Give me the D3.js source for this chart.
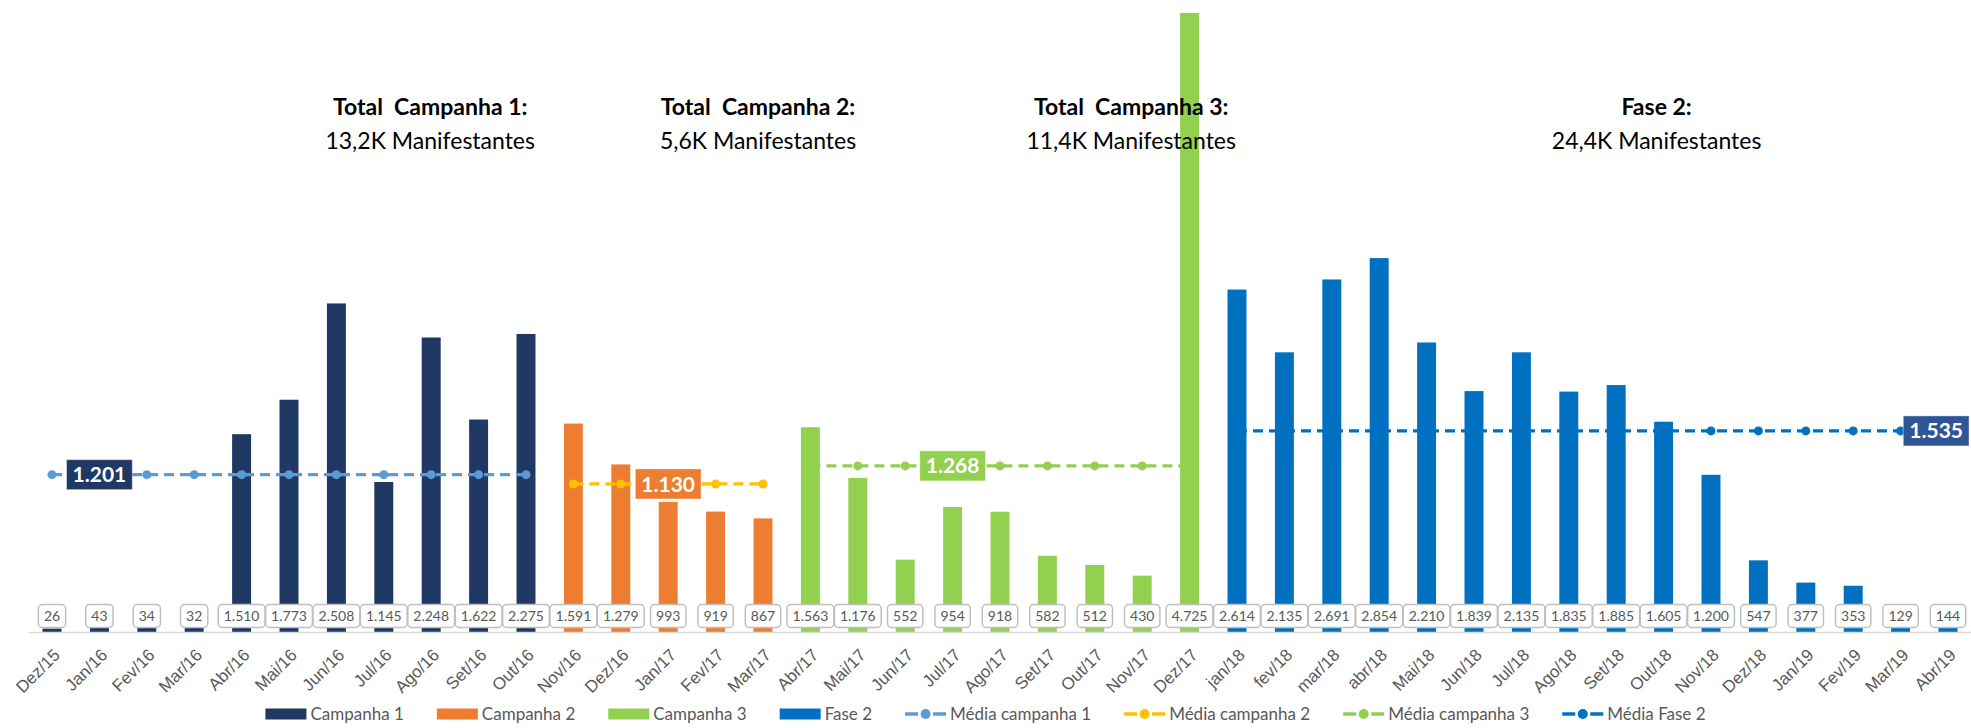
<!DOCTYPE html>
<html>
<head>
<meta charset="utf-8">
<title>Manifestantes por mês</title>
<script src="https://d3js.org/d3.v7.min.js"></script>
<style>
  body { margin: 0; background: #fff; }
  svg { display: block; font-family: Lato, "Open Sans", sans-serif; }
  .xlab { fill: #595959; font-size: 17px; }
  .dlab { fill: #595959; font-size: 14px; }
  .leg text { fill: #595959; font-size: 17px; }
  .title { white-space: pre; }
</style>
</head>
<body>
<svg class="chart"></svg>
<script>
var months = ["Dez/15","Jan/16","Fev/16","Mar/16","Abr/16","Mai/16","Jun/16","Jul/16","Ago/16","Set/16","Out/16",
  "Nov/16","Dez/16","Jan/17","Fev/17","Mar/17",
  "Abr/17","Mai/17","Jun/17","Jul/17","Ago/17","Set/17","Out/17","Nov/17","Dez/17",
  "jan/18","fev/18","mar/18","abr/18","Mai/18","Jun/18","Jul/18","Ago/18","Set/18","Out/18","Nov/18","Dez/18",
  "Jan/19","Fev/19","Mar/19","Abr/19"];

var campanha1 = [26, 43, 34, 32, 1510, 1773, 2508, 1145, 2248, 1622, 2275];
var campanha2 = [1591, 1279, 993, 919, 867];
var campanha3 = [1563, 1176, 552, 954, 918, 582, 512, 430, 4725];
var fase2 = [2614, 2135, 2691, 2854, 2210, 1839, 2135, 1835, 1885, 1605, 1200, 547, 377, 353, 129, 144];

var medias = [1201, 1130, 1268, 1535];
var mediaLabelMonth = ["Jan/16", "Jan/17", "Jul/17", "Abr/19"];

var seriesNames = ["Campanha 1", "Campanha 2", "Campanha 3", "Fase 2"];
var mediaNames = ["Média campanha 1", "Média campanha 2", "Média campanha 3", "Média Fase 2"];
var titleLine1 = ["Total  Campanha 1:", "Total  Campanha 2:", "Total  Campanha 3:", "Fase 2:"];
var titleLine2 = ["13,2K Manifestantes", "5,6K Manifestantes", "11,4K Manifestantes", "24,4K Manifestantes"];

var barColors = ["#203864", "#ED7D31", "#92D050", "#0070C0"];
var lineColors = ["#5B9BD5", "#FFC000", "#92D050", "#0070C0"];
var boxColors = ["#203864", "#ED7D31", "#92D050", "#2F5597"];

var svgWidth = 1971, svgHeight = 728;
var baseY = 632;

var fmt = function(v) { return d3.format(",")(v).replace(/,/g, "."); };

// build rows: each series starts where the previous one ended
var allSeries = [campanha1, campanha2, campanha3, fase2];
var rows = [], seriesMonths = [], start = 0;
allSeries.forEach(function(arr, s) {
  var ms = [];
  arr.forEach(function(v, i) {
    rows.push({ month: months[start + i], value: v, s: s });
    ms.push(months[start + i]);
  });
  seriesMonths.push(ms);
  start += arr.length;
});

var xScale = d3.scaleBand().domain(months).range([28.3, 1971.7]).paddingInner(0.6).paddingOuter(0.3);
var xMid = function(m) { return xScale(m) + xScale.bandwidth() / 2; };
var yScale = d3.scaleLinear().domain([0, 4725]).range([baseY, 13]);

var chart = d3.select(".chart").attr("width", svgWidth).attr("height", svgHeight);

// bars
chart.append("g").selectAll("rect")
  .data(rows).enter().append("rect")
    .attr("x", function(d) { return xScale(d.month); })
    .attr("y", function(d) { return yScale(d.value); })
    .attr("width", xScale.bandwidth())
    .attr("height", function(d) { return baseY - yScale(d.value); })
    .attr("fill", function(d) { return barColors[d.s]; });

// x axis
var xAxis = d3.axisBottom(xScale).tickSize(0).tickSizeOuter(0);
var ax = chart.append("g")
  .attr("transform", "translate(0," + baseY + ")")
  .call(xAxis);
ax.select(".domain").attr("stroke", "#D9D9D9").attr("stroke-width", 1.5);
ax.selectAll(".tick text")
  .attr("class", "xlab")
  .attr("font-size", null).attr("font-family", null)
  .attr("text-anchor", "end")
  .attr("y", 0).attr("dy", 0)
  .attr("transform", "translate(9,24) rotate(-45)");

// data label boxes
var dl = chart.append("g").selectAll("g")
  .data(rows).enter().append("g")
    .attr("transform", function(d) { return "translate(" + xMid(d.month) + ",616)"; });
dl.append("rect");
dl.append("text")
  .attr("class", "dlab")
  .attr("text-anchor", "middle")
  .attr("dy", "0.36em")
  .text(function(d) { return fmt(d.value); });
dl.each(function() {
  var g = d3.select(this);
  var w = g.select("text").node().getComputedTextLength() + 11;
  g.select("rect")
    .attr("x", -w / 2).attr("y", -11.5)
    .attr("width", w).attr("height", 23)
    .attr("rx", 4)
    .attr("fill", "#fff").attr("stroke", "#BFBFBF").attr("stroke-width", 1.5);
});

// average lines
var line = d3.line().x(function(d) { return xMid(d); });
medias.forEach(function(m, s) {
  var ms = seriesMonths[s];
  var g = chart.append("g");
  g.append("path")
    .attr("d", line.y(function() { return yScale(m); })(ms))
    .attr("fill", "none")
    .attr("stroke", lineColors[s])
    .attr("stroke-width", 3.2)
    .attr("stroke-dasharray", "10,6");
  g.selectAll("circle").data(ms).enter().append("circle")
    .attr("cx", xMid).attr("cy", yScale(m)).attr("r", 4.5)
    .attr("fill", lineColors[s]);
  var lab = g.append("g");
  var rect = lab.append("rect");
  var t = lab.append("text")
    .attr("text-anchor", "middle").attr("dy", "0.36em")
    .attr("fill", "#fff").attr("font-weight", "bold").attr("font-size", 21)
    .text(fmt(m));
  var w = t.node().getComputedTextLength() + 12;
  // keep the label box inside the picture on the right edge
  var cx = Math.min(xMid(mediaLabelMonth[s]), svgWidth - w / 2 - 2);
  lab.attr("transform", "translate(" + cx + "," + yScale(m) + ")");
  rect.attr("x", -w / 2).attr("y", -15).attr("width", w).attr("height", 30)
    .attr("fill", boxColors[s]).attr("stroke", "#fff").attr("stroke-opacity", 0.4);
});

// campaign totals
var titleAt = ["Ago/16", "Mar/17", "Nov/17", "Out/18"];
var titleDx = [-1, -5, -11, -7];
titleLine1.forEach(function(t, i) {
  var tx = xMid(titleAt[i]) + titleDx[i];
  chart.append("text")
    .attr("class", "title")
    .attr("x", tx).attr("y", 107).attr("dy", "0.35em")
    .attr("text-anchor", "middle").attr("font-weight", "bold").attr("font-size", 23)
    .attr("fill", "#000").text(t);
  chart.append("text")
    .attr("class", "title")
    .attr("x", tx).attr("y", 141).attr("dy", "0.35em")
    .attr("text-anchor", "middle").attr("font-size", 23)
    .attr("fill", "#000").text(titleLine2[i]);
});

// legend
var legItems = [];
seriesNames.forEach(function(n, i) { legItems.push({ name: n, type: "bar", color: barColors[i] }); });
mediaNames.forEach(function(n, i) { legItems.push({ name: n, type: "line", color: lineColors[i] }); });

var leg = chart.append("g").attr("class", "leg");
var lx = 0;
legItems.forEach(function(d) {
  var g = leg.append("g").attr("transform", "translate(" + lx + ",0)");
  if (d.type === "bar") {
    g.append("rect").attr("x", 0).attr("y", -5.5).attr("width", 41).attr("height", 11).attr("fill", d.color);
  } else {
    g.append("line").attr("x1", 0).attr("x2", 13).attr("stroke", d.color).attr("stroke-width", 3.5);
    g.append("line").attr("x1", 28).attr("x2", 41).attr("stroke", d.color).attr("stroke-width", 3.5);
    g.append("circle").attr("cx", 20.5).attr("r", 5).attr("fill", d.color);
  }
  var t = g.append("text").attr("x", 45).attr("dy", "0.35em").text(d.name);
  lx += 45 + t.node().getComputedTextLength() + 33;
});
lx -= 33;
leg.attr("transform", "translate(" + (svgWidth / 2 - lx / 2) + ",714)");
</script>
</body>
</html>
